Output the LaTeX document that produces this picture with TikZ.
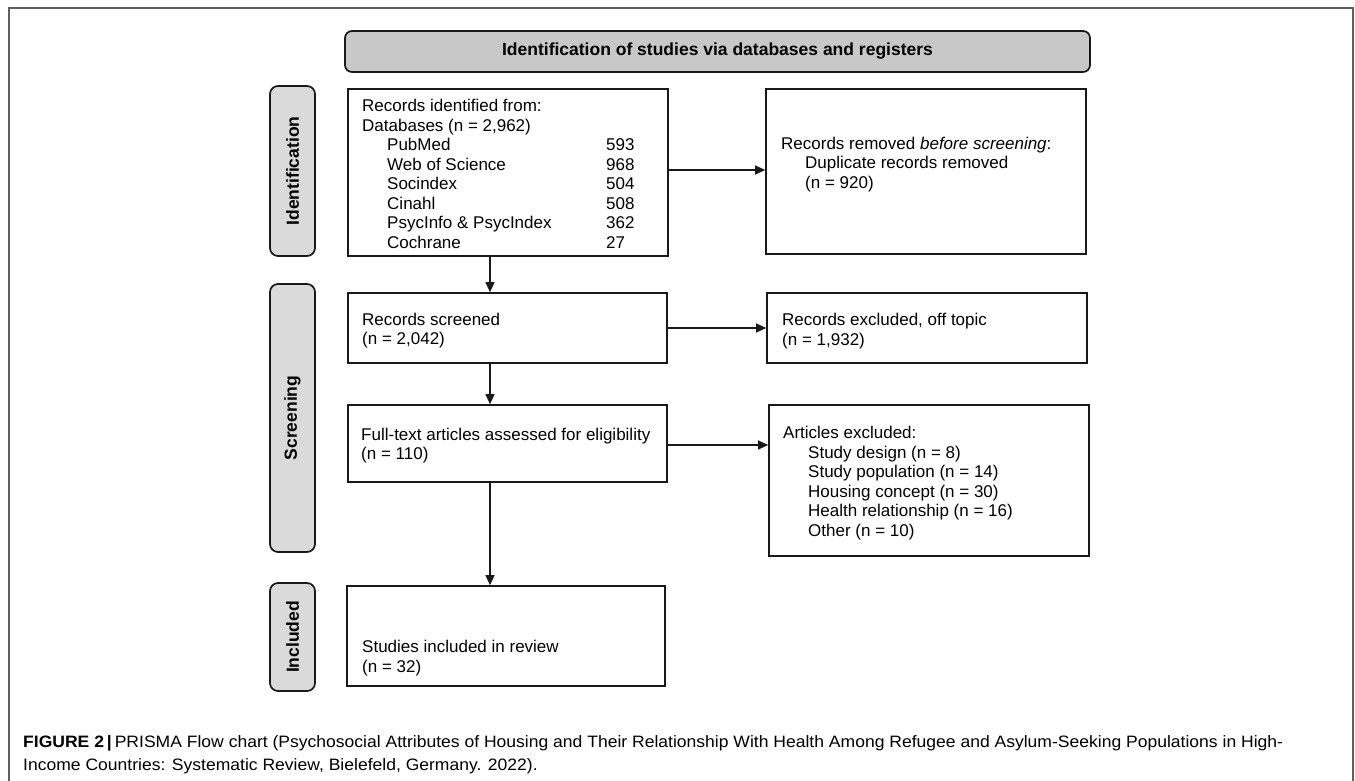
\documentclass[tikz,border=0pt]{standalone}
\usepackage{fontspec}
\setmainfont{Liberation Sans}
\usetikzlibrary{arrows.meta}
\definecolor{hdrfill}{RGB}{200,200,200}
\definecolor{lblfill}{RGB}{218,218,218}
\definecolor{framec}{RGB}{95,95,95}
\definecolor{ink}{RGB}{25,25,25}
\newlength\caplen
\newcommand\capone{\textbf{FIGURE 2\,|\,}PRISMA Flow chart (Psychosocial Attributes of Housing and Their Relationship With Health Among Refugee and Asylum-Seeking Populations in High-}
\begin{document}
\settowidth\caplen{\fontsize{16.5}{20}\selectfont\capone}%
\pgfmathsetmacro\capsc{1260/\caplen}%
\begin{tikzpicture}[x=1pt,y=-1pt,
  box/.style={draw=ink, line width=1.7pt, inner sep=0, rectangle},
  hdr/.style={draw=ink, line width=1.7pt, fill=hdrfill, rounded corners=7pt, inner sep=0},
  lbl/.style={draw=ink, line width=1.7pt, fill=lblfill, rounded corners=8pt, inner sep=0},
  lbltxt/.style={rotate=90, inner sep=0, font=\fontsize{17.5}{20}\selectfont\bfseries},
  txt/.style={inner sep=0, anchor=west, align=left, font=\fontsize{17}{19.5}\selectfont},
  arr/.style={draw=ink, line width=1.2pt, -{Triangle[length=10pt,width=9pt]}}]
\useasboundingbox (0,0) rectangle (1355,781);
\clip (0,0) rectangle (1355,781);
\fill[white] (0,0) rectangle (1355,781);
% outer frame
\draw[framec, line width=1.3pt] (9,820) -- (9,8) -- (1353,8) -- (1353,820);

% header
\node[hdr, minimum width=745pt, minimum height=41pt] (hdr) at (717.5,51.5) {};
\node[inner sep=0, font=\fontsize{17.5}{20}\selectfont\bfseries] (hdrt) at (hdr.center) {Identification of studies via databases and registers};

% side labels
\node[lbl, minimum width=45pt, minimum height=170pt] (lblI) at (292.5,171) {};
\node[lbltxt] (lblIt) at (lblI.center) {Identification};
\node[lbl, minimum width=45pt, minimum height=268pt] (lblS) at (292.5,418) {};
\node[lbltxt] (lblSt) at (lblS.center) {Screening};
\node[lbl, minimum width=45pt, minimum height=108pt] (lblN) at (292.5,637) {};
\node[lbltxt] (lblNt) at (lblN.center) {Included};

% boxes
\node[box, minimum width=320pt, minimum height=167pt] (recs) at (508,172.5) {};
\node[box, minimum width=320pt, minimum height=165pt] (rem) at (926,171.5) {};
\node[box, minimum width=319pt, minimum height=70pt] (scr) at (507.5,328) {};
\node[box, minimum width=320pt, minimum height=70pt] (exc) at (927,328) {};
\node[box, minimum width=319pt, minimum height=77pt] (full) at (507.5,443.5) {};
\node[box, minimum width=320pt, minimum height=151pt] (arts) at (929,480.5) {};
\node[box, minimum width=318pt, minimum height=100pt] (stud) at (506,636) {};

% texts
\node[txt] (recst) at (362,174) {Records identified from:\\
Databases (n = 2,962)\\
\hspace*{25pt}\makebox[219pt][l]{PubMed}593\\
\hspace*{25pt}\makebox[219pt][l]{Web of Science}968\\
\hspace*{25pt}\makebox[219pt][l]{Socindex}504\\
\hspace*{25pt}\makebox[219pt][l]{Cinahl}508\\
\hspace*{25pt}\makebox[219pt][l]{PsycInfo \& PsycIndex}362\\
\hspace*{25pt}\makebox[219pt][l]{Cochrane}27};
\node[txt] (remt) at (781,164.5) {Records removed \textit{before screening}:\\
\hspace*{24pt}Duplicate records removed\\
\hspace*{24pt}(n = 920)};
\node[txt] (scrt) at (362,330.5) {Records screened\\(n = 2,042)};
\node[txt] (exct) at (782,331) {Records excluded, off topic\\(n = 1,932)};
\node[txt] (fullt) at (361,445.5) {Full-text articles assessed for eligibility\\(n = 110)};
\node[txt] (artst) at (783,483) {Articles excluded:\\
\hspace*{25pt}Study design (n = 8)\\
\hspace*{25pt}Study population (n = 14)\\
\hspace*{25pt}Housing concept (n = 30)\\
\hspace*{25pt}Health relationship (n = 16)\\
\hspace*{25pt}Other (n = 10)};
\node[txt] (studt) at (362,658) {Studies included in review\\(n = 32)};

% connectors
\coordinate (dx) at (490,0);
\draw[arr] ([yshift=2.5pt]recs.east) -- ([yshift=2.5pt]recs.east -| rem.west);
\draw[arr] (scr.east) -- (scr.east -| exc.west);
\draw[arr] ([yshift=-1.5pt]full.east) -- ([yshift=-1.5pt]full.east -| arts.west);
\draw[arr] (dx |- recs.south) -- (dx |- scr.north);
\draw[arr] (dx |- scr.south) -- (dx |- full.north);
\draw[arr] (dx |- full.south) -- (dx |- stud.north);

% caption
\node[anchor=base west, inner sep=0, font=\fontsize{16.5}{20}\selectfont] (cap1) at (23,747) {\scalebox{\capsc}[1]{\capone}};
\node[anchor=base west, inner sep=0, font=\fontsize{16.5}{20}\selectfont] (cap2) at (23,770) {\scalebox{\capsc}[1]{Income Countries: Systematic Review, Bielefeld, Germany. 2022).}};
\end{tikzpicture}
\end{document}
